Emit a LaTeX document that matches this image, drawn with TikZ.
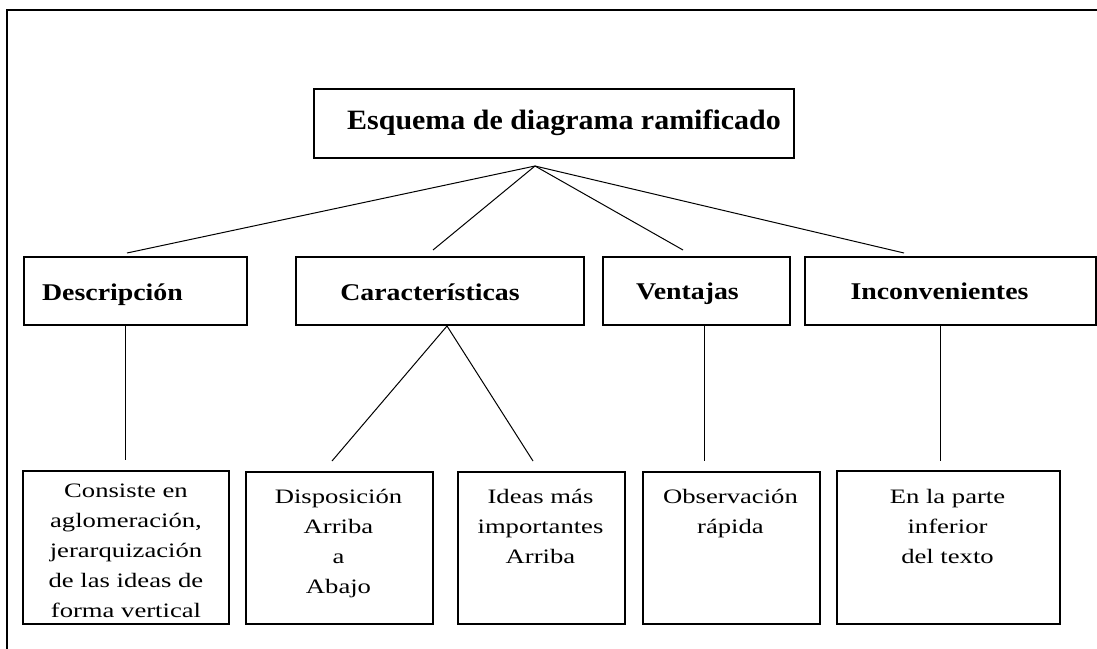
\documentclass[tikz,border=0pt]{standalone}
\usepackage{fontspec}
\setmainfont{Liberation Serif}
\newfontfamily\titlefont[FakeStretch=1.07]{Liberation Serif}
\newfontfamily\headfont[FakeStretch=1.16]{Liberation Serif}
\newfontfamily\bodyfont[FakeStretch=1.3]{Liberation Serif}
\newcommand\mycell[1]{\begin{tabular}[t]{@{}c@{}}#1\end{tabular}}
\begin{document}
\begin{tikzpicture}[x=1pt,y=-1pt,
  box/.style={draw=black,line width=1.7pt,inner sep=0pt,anchor=north west},
  conn/.style={draw=black,line width=1pt},
  frame/.style={draw=black,line width=2.6pt},
  titletxt/.style={inner sep=0pt,anchor=base,font=\titlefont\bfseries\fontsize{28}{32}\selectfont},
  headtxt/.style={inner sep=0pt,anchor=base,font=\headfont\bfseries\fontsize{24}{28}\selectfont},
  bodytxt/.style={inner sep=0pt,anchor=base,font=\bodyfont\fontsize{20.5}{30}\selectfont}]
\useasboundingbox (0,0) rectangle (1097,648);
\fill[white] (0,0) rectangle (1097,648);
% outer frame (only left and top edges fall inside the picture)
\draw[frame] (7,650) -- (7,10) -- (1099,10);
% boxes
\node[box,minimum width=480pt,minimum height=69pt] (top) at (313,88) {};
\node[box,minimum width=223pt,minimum height=68pt] (d) at (23,256) {};
\node[box,minimum width=288pt,minimum height=68pt] (c) at (295,256) {};
\node[box,minimum width=187pt,minimum height=68pt] (v) at (602,256) {};
\node[box,minimum width=291pt,minimum height=68pt] (i) at (804,256) {};
\node[box,minimum width=206pt,minimum height=153pt] (b1) at (22,470) {};
\node[box,minimum width=187pt,minimum height=152pt] (b2) at (245,471) {};
\node[box,minimum width=167pt,minimum height=152pt] (b3) at (457,471) {};
\node[box,minimum width=177pt,minimum height=152pt] (b4) at (642,471) {};
\node[box,minimum width=223pt,minimum height=153pt] (b5) at (836,470) {};
% texts
\node[titletxt] (ttop) at (564,129) {Esquema de diagrama ramificado};
\node[headtxt] (td) at (112.5,300) {Descripción};
\node[headtxt] (tc) at (430,300) {Características};
\node[headtxt] (tv) at (687.5,299) {Ventajas};
\node[headtxt] (ti) at (939.5,299) {Inconvenientes};
\node[bodytxt] (t1) at (126,497) {\mycell{Consiste en\\aglomeración,\\jerarquización\\de las ideas de\\forma vertical}};
\node[bodytxt] (t2) at (338.5,503) {\mycell{Disposición\\Arriba\\a\\Abajo}};
\node[bodytxt] (t3) at (540.5,503) {\mycell{Ideas más\\importantes\\Arriba}};
\node[bodytxt] (t4) at (730.5,503) {\mycell{Observación\\rápida}};
\node[bodytxt] (t5) at (947.5,503) {\mycell{En la parte\\inferior\\del texto}};
% connector end points
\coordinate (apex) at (535,166);
\coordinate (dT) at (127,253);
\coordinate (cT) at (433,250);
\coordinate (vT) at (683,250);
\coordinate (iT) at (904,253);
\coordinate (dB) at (125,324);
\coordinate (b1T) at (125,460);
\coordinate (cB) at (447,326);
\coordinate (b2T) at (332,461);
\coordinate (b3T) at (533,461);
\coordinate (vB) at (704,324);
\coordinate (b4T) at (704,461);
\coordinate (iB) at (940,324);
\coordinate (b5T) at (940,461);
% connectors
\draw[conn] (apex) -- (dT);
\draw[conn] (apex) -- (cT);
\draw[conn] (apex) -- (vT);
\draw[conn] (apex) -- (iT);
\draw[conn] (dB) -- (b1T);
\draw[conn] (cB) -- (b2T);
\draw[conn] (cB) -- (b3T);
\draw[conn] (vB) -- (b4T);
\draw[conn] (iB) -- (b5T);
\end{tikzpicture}
\end{document}
